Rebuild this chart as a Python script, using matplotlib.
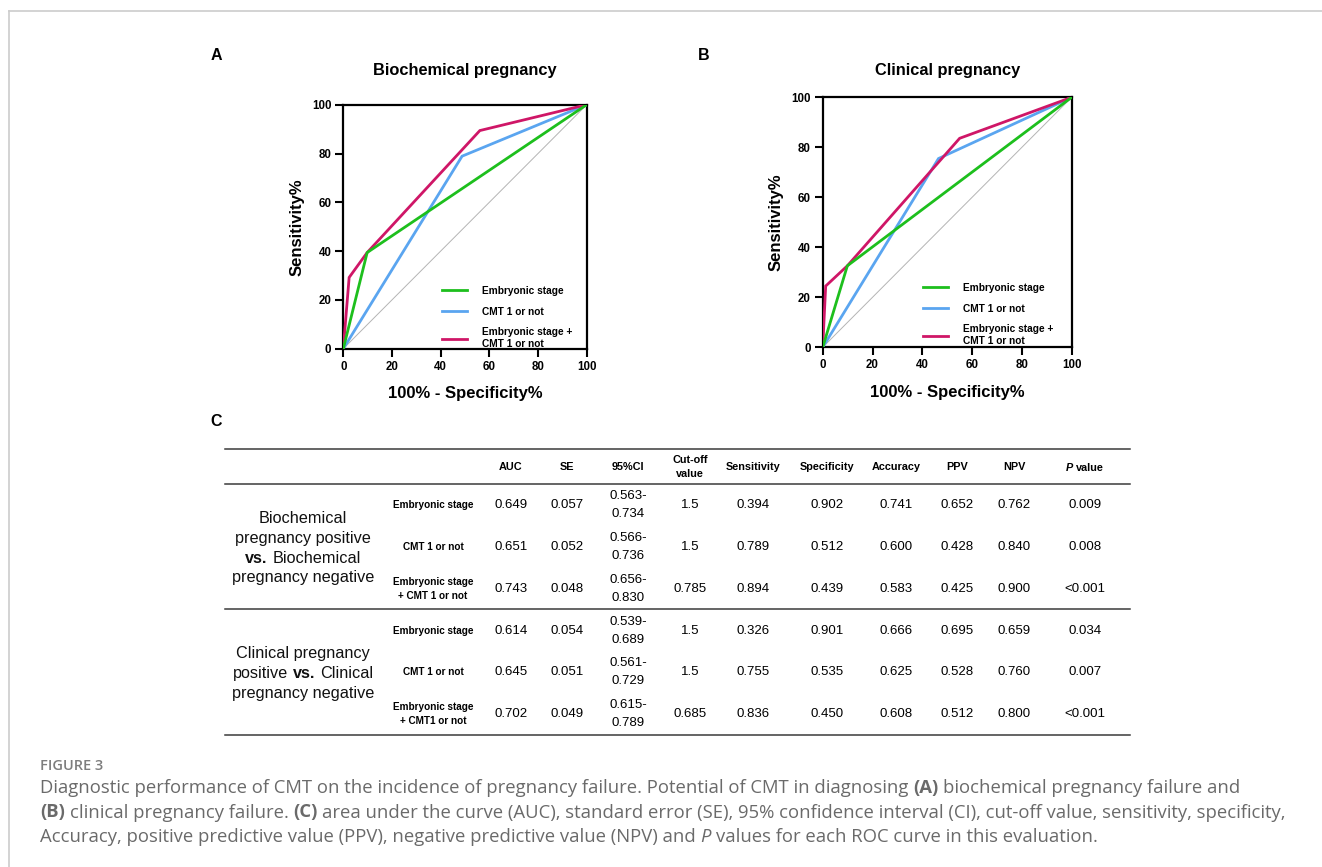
import matplotlib
matplotlib.use("Agg")
import matplotlib.pyplot as plt
from matplotlib.lines import Line2D

W, H = 1322, 867

# ---------------- data ----------------
# Panel A: biochemical pregnancy (x = 100% - specificity%, y = sensitivity%)
a_embryo_x = [0, 9.8, 100]
a_embryo_y = [0, 39.4, 100]
a_cmt_x = [0, 48.8, 100]
a_cmt_y = [0, 78.9, 100]
a_comb_x = [0, 2.4, 9.8, 56.1, 100]
a_comb_y = [0, 29.2, 39.4, 89.4, 100]
# Panel B: clinical pregnancy
b_embryo_x = [0, 9.9, 100]
b_embryo_y = [0, 32.6, 100]
b_cmt_x = [0, 46.5, 100]
b_cmt_y = [0, 75.5, 100]
b_comb_x = [0, 1.2, 9.9, 55.0, 100]
b_comb_y = [0, 24.5, 32.6, 83.6, 100]

ref_x = [0, 100]
ref_y = [0, 100]
ticks = [0, 20, 40, 60, 80, 100]

series_labels = ["Embryonic stage", "CMT 1 or not", "Embryonic stage +\nCMT 1 or not"]
series_colors = ["#1dbf1d", "#5aa5f0", "#cf1667"]

# Panel C table
header = ["AUC", "SE", "95%CI", "Cut-off\nvalue", "Sensitivity", "Specificity",
          "Accuracy", "PPV", "NPV", "P value"]
group_lines = [
    [[("Biochemical", "n")], [("pregnancy positive", "n")],
     [("vs.", "b"), (" Biochemical", "n")], [("pregnancy negative", "n")]],
    [[("Clinical pregnancy", "n")], [("positive ", "n"), ("vs.", "b"), (" Clinical", "n")],
     [("pregnancy negative", "n")]],
]
methods = ["Embryonic stage", "CMT 1 or not", "Embryonic stage\n+ CMT 1 or not",
           "Embryonic stage", "CMT 1 or not", "Embryonic stage\n+ CMT1 or not"]
auc = ["0.649", "0.651", "0.743", "0.614", "0.645", "0.702"]
se = ["0.057", "0.052", "0.048", "0.054", "0.051", "0.049"]
ci = ["0.563-\n0.734", "0.566-\n0.736", "0.656-\n0.830",
      "0.539-\n0.689", "0.561-\n0.729", "0.615-\n0.789"]
cutoff = ["1.5", "1.5", "0.785", "1.5", "1.5", "0.685"]
sens = ["0.394", "0.789", "0.894", "0.326", "0.755", "0.836"]
spec = ["0.902", "0.512", "0.439", "0.901", "0.535", "0.450"]
acc = ["0.741", "0.600", "0.583", "0.666", "0.625", "0.608"]
ppv = ["0.652", "0.428", "0.425", "0.695", "0.528", "0.512"]
npv = ["0.762", "0.840", "0.900", "0.659", "0.760", "0.800"]
pval = ["0.009", "0.008", "<0.001", "0.034", "0.007", "<0.001"]

caption_title = "FIGURE 3"
caption_lines = [
    [("Diagnostic performance of CMT on the incidence of pregnancy failure. Potential of CMT in diagnosing ", "n"),
     ("(A)", "b"), (" biochemical pregnancy failure and", "n")],
    [("(B)", "b"), (" clinical pregnancy failure. ", "n"), ("(C)", "b"),
     (" area under the curve (AUC), standard error (SE), 95% confidence interval (CI), cut-off value, sensitivity, specificity,", "n")],
    [("Accuracy, positive predictive value (PPV), negative predictive value (NPV) and ", "n"),
     ("P", "i"), (" values for each ROC curve in this evaluation.", "n")],
]

# ---------------- figure ----------------
SANS = "Liberation Sans"
plt.rcParams["font.family"] = [SANS, "DejaVu Sans"]
fig = plt.figure(figsize=(W / 100, H / 100), dpi=100)
fig.patch.set_facecolor("white")
renderer = fig.canvas.get_renderer()


def fx(x):
    return x / W


def fy(y):
    return 1 - y / H


def measure(txt, **kw):
    t = fig.text(0, 0, txt, **kw)
    w = t.get_window_extent(renderer).width
    t.remove()
    return w


STYLE = {"n": {}, "b": {"fontweight": "bold"}, "i": {"fontstyle": "italic"}}


def layout_segs(segs, **base):
    sp = measure("a a", **base) - measure("aa", **base)
    pieces = []
    for txt, st in segs:
        lead = len(txt) - len(txt.lstrip(" "))
        trail = len(txt) - len(txt.rstrip(" "))
        core = txt.strip(" ")
        kw = dict(base)
        kw.update(STYLE[st])
        w = measure(core, **kw)
        pieces.append((lead * sp, core, kw, w, trail * sp))
    total = sum(p[0] + p[3] + p[4] for p in pieces)
    return pieces, total


def draw_segs(x, y, segs, ha="left", va="baseline", **base):
    pieces, total = layout_segs(segs, **base)
    cur = x - total / 2 if ha == "center" else x
    for lead, core, kw, w, trail in pieces:
        cur += lead
        fig.text(fx(cur), fy(y), core, ha="left", va=va, **kw)
        cur += w + trail


def draw_lines(x, yc, text, gap, **kw):
    lines = text.split("\n")
    n = len(lines)
    for i, ln in enumerate(lines):
        y = yc + (i - (n - 1) / 2) * gap
        fig.text(fx(x), fy(y), ln, ha="center", va="center", **kw)


# figure frame (light gray border lines)
fig.add_artist(Line2D([fx(9), 1.0], [fy(11), fy(11)], color="#cccccc", lw=1.2))
fig.add_artist(Line2D([fx(9), fx(9)], [fy(11), 0.0], color="#cccccc", lw=1.2))


def roc_panel(rect, xs, ys, title, title_y, letter_xy, legend_xy):
    ax = fig.add_axes(rect)
    ax.plot(ref_x, ref_y, color="#b4b4b4", lw=0.7, zorder=1)
    handles = []
    for i, (x, y, col) in enumerate(zip(xs, ys, series_colors)):
        h, = ax.plot(x, y, color=col, lw=2.0, zorder=4 if i == 0 else 3,
                     solid_joinstyle="miter")
        handles.append(h)
    ax.set_xlim(0, 100)
    ax.set_ylim(0, 100)
    ax.set_xticks(ticks)
    ax.set_yticks(ticks)
    for s in ax.spines.values():
        s.set_linewidth(1.6)
    ax.tick_params(direction="out", length=5.5, width=1.5, labelsize=8.3, pad=3)
    for lab in ax.get_xticklabels() + ax.get_yticklabels():
        lab.set_fontweight("bold")
    ax.set_xlabel("100% - Specificity%", fontsize=12, fontweight="bold", labelpad=10)
    ax.set_ylabel("Sensitivity%", fontsize=12, fontweight="bold", labelpad=5.5)
    cx = rect[0] + rect[2] / 2
    fig.text(cx, fy(title_y), title, ha="center", va="center", fontsize=11.8, fontweight="bold")
    fig.text(fx(letter_xy[0]), fy(letter_xy[1]), letter_xy[2], ha="center", va="center",
             fontsize=11.5, fontweight="bold")
    ax.legend(handles, series_labels, loc="upper left",
              bbox_to_anchor=(fx(legend_xy[0]), fy(legend_xy[1])),
              bbox_transform=fig.transFigure, frameon=False,
              prop={"weight": "bold", "size": 7.3}, handlelength=2.45,
              handletextpad=1.5, labelspacing=1.05, borderpad=0, borderaxespad=0)
    return ax


rectA = [343.3 / W, (H - 348.7) / H, 243.4 / W, 244.0 / H]
rectB = [822.7 / W, (H - 347.3) / H, 249.0 / W, 250.0 / H]
roc_panel(rectA, [a_embryo_x, a_cmt_x, a_comb_x], [a_embryo_y, a_cmt_y, a_comb_y],
          "Biochemical pregnancy", 70, (216, 55, "A"), (442, 286))
roc_panel(rectB, [b_embryo_x, b_cmt_x, b_comb_x], [b_embryo_y, b_cmt_y, b_comb_y],
          "Clinical pregnancy", 70, (704, 55, "B"), (923, 283))

# ---------------- table ----------------
fig.text(fx(216), fy(422), "C", ha="center", va="center", fontsize=11.5, fontweight="bold")
line_col = "#3a3a3a"
for yl in [449, 484, 609, 735]:
    fig.add_artist(Line2D([fx(225), fx(1130)], [fy(yl), fy(yl)], color=line_col, lw=1.1))

col_x = [511, 567, 628, 690, 753, 827, 896, 957, 1014, 1085]
header_y = 467
for x, h in zip(col_x, header):
    if h == "P value":
        draw_segs(x, header_y + 3.7, [("P", "i"), (" value", "n")], ha="center",
                  fontsize=7.8, fontweight="bold")
    else:
        draw_lines(x, header_y, h, 14, fontsize=7.8, fontweight="bold")

row_y = [505, 547, 589, 631, 672, 714]
cols = [auc, se, ci, cutoff, sens, spec, acc, ppv, npv, pval]
for r, yr in enumerate(row_y):
    draw_lines(433, yr, methods[r], 14, fontsize=7.2, fontweight="bold")
    for x, col in zip(col_x, cols):
        draw_lines(x, yr, col[r], 18, fontsize=9.5)

group_center = [547, 672]
for gc, lines in zip(group_center, group_lines):
    n = len(lines)
    for i, segs in enumerate(lines):
        yc = gc + (i - (n - 1) / 2) * 19.7
        draw_segs(303, yc + 5.9, segs, ha="center", fontsize=11.7, color="#111111")

# ---------------- caption ----------------
CAPF = ["Open Sans", "DejaVu Sans"]
fig.text(fx(40), fy(769.5), caption_title, ha="left", va="baseline", fontsize=10.5,
         fontweight="semibold", color="#7d7d7d", family=CAPF)
# fit caption size so that the first line spans the same width as the reference
_, w0 = layout_segs(caption_lines[0], fontsize=12, family=CAPF)
cap_size = 12 * 1193 / w0
for i, segs in enumerate(caption_lines):
    draw_segs(40, 793 + i * 24.5, segs, fontsize=cap_size, color="#6a6a6a", family=CAPF)

fig.savefig("out.png", dpi=100, facecolor="white")
